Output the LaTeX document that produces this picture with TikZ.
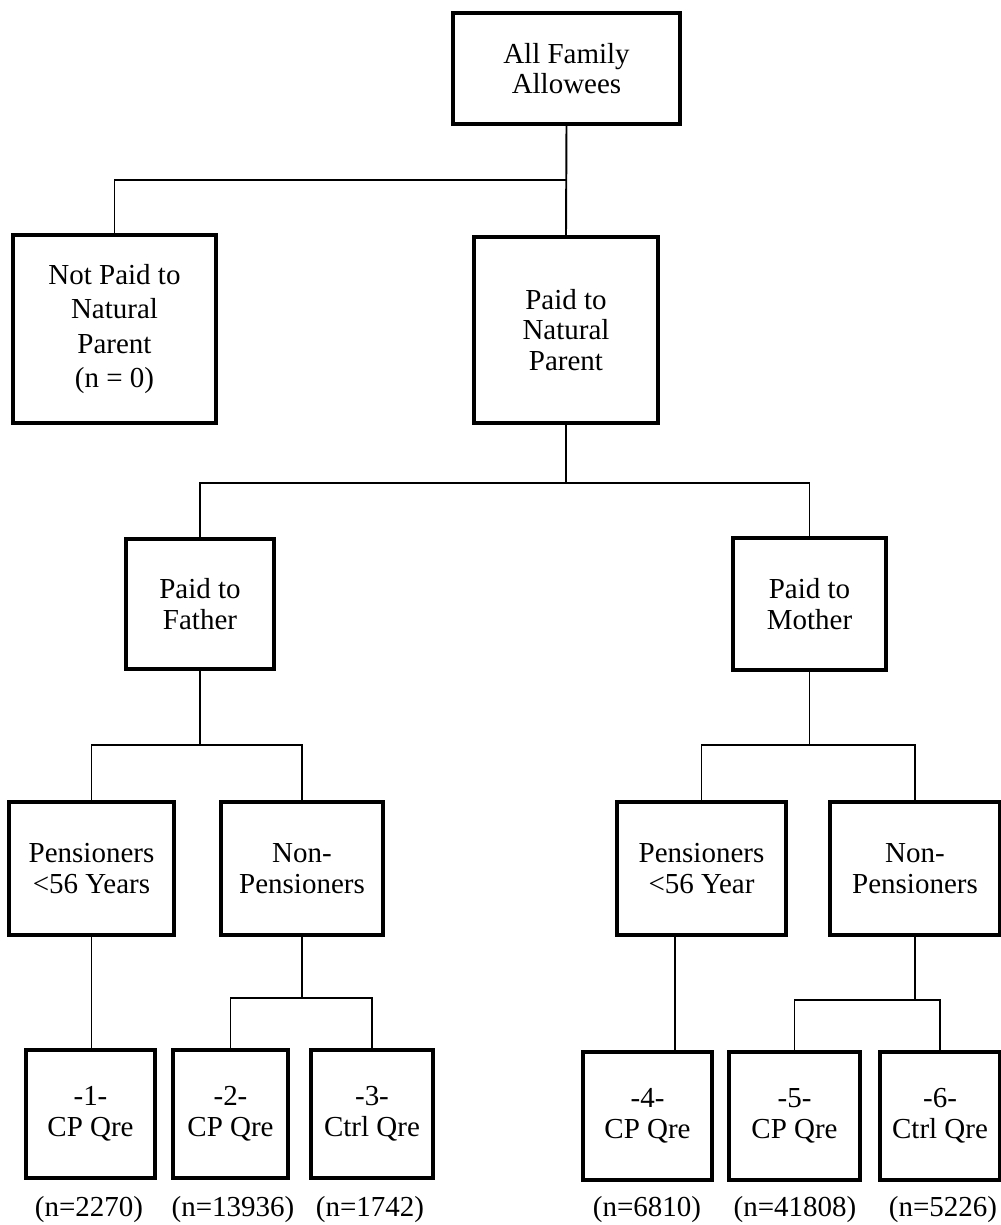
\documentclass[tikz,border=0pt]{standalone}
\usepackage{fontspec}
\setmainfont{Liberation Serif}
\usetikzlibrary{calc}

\begin{document}
\begin{tikzpicture}[x=0.02cm, y=-0.02cm,
  box/.style={draw, line width=1.8pt, align=center, inner sep=0pt,
    font=\fontsize{16.5}{17.5}\selectfont},
  link/.style={line width=1.1pt},
  count/.style={font=\fontsize{16.5}{17.5}\selectfont}]
  \useasboundingbox (0,0) rectangle (1001,1225);

  % Level 0
  \node[box, minimum width=4.54cm, minimum height=2.22cm] (all) at (566.5,68.5) {All Family\\Allowees};

  % Level 1
  \node[box, minimum width=4.06cm, minimum height=3.76cm] (notnat) at (114.5,329) {Not Paid to\\[2pt]Natural\\[2pt]Parent\\[2pt](n = 0)};
  \node[box, minimum width=3.68cm, minimum height=3.72cm] (nat) at (566,330) {Paid to\\Natural\\Parent};

  % Level 2
  \node[box, minimum width=2.96cm, minimum height=2.60cm] (father) at (200,604) {Paid to\\Father};
  \node[box, minimum width=3.06cm, minimum height=2.64cm] (mother) at (809.5,604) {Paid to\\Mother};

  % Level 3
  \node[box, minimum width=3.30cm, minimum height=2.66cm] (fpens) at (91.5,868.5) {Pensioners\\<56 Years};
  \node[box, minimum width=3.24cm, minimum height=2.66cm] (fnon) at (302,868.5) {Non-\\Pensioners};
  \node[box, minimum width=3.38cm, minimum height=2.66cm] (mpens) at (701.5,868.5) {Pensioners\\<56 Year};
  \node[box, minimum width=3.40cm, minimum height=2.66cm] (mnon) at (915,868.5) {Non-\\Pensioners};

  % Level 4 (questionnaires)
  \node[box, minimum width=2.58cm, minimum height=2.56cm] (q1) at (90.5,1114) {-1-\\CP Qre};
  \node[box, minimum width=2.30cm, minimum height=2.56cm] (q2) at (230.5,1114) {-2-\\CP Qre};
  \node[box, minimum width=2.44cm, minimum height=2.56cm] (q3) at (372,1114) {-3-\\Ctrl Qre};
  \node[box, minimum width=2.58cm, minimum height=2.56cm] (q4) at (647.5,1116) {-4-\\CP Qre};
  \node[box, minimum width=2.62cm, minimum height=2.56cm] (q5) at (794.5,1116) {-5-\\CP Qre};
  \node[box, minimum width=2.40cm, minimum height=2.56cm] (q6) at (940,1116) {-6-\\Ctrl Qre};

  % Sample sizes
  \node[count] (n1) at (89,1210) {(n=2270)};
  \node[count] (n2) at (233,1210) {(n=13936)};
  \node[count] (n3) at (370,1210) {(n=1742)};
  \node[count] (n4) at (647,1210) {(n=6810)};
  \node[count] (n5) at (795,1210) {(n=41808)};
  \node[count] (n6) at (943,1210) {(n=5226)};

  % Junctions
  \coordinate (j0) at (566,180);
  \coordinate (j1) at (566,483);
  \coordinate (j2) at (200,745);
  \coordinate (j3) at (809.5,745);
  \coordinate (j4) at (302,998);
  \coordinate (j5) at (915,1000);
  \coordinate (m4) at (675,0);

  % Connectors
  \draw[link] (all.south) -- (nat.north);
  \draw[link] (j0) -| (notnat.north);
  \draw[link] (nat.south) -- (j1);
  \draw[link] (father.north) |- (j1) -| (mother.north);
  \draw[link] (father.south) -- (j2);
  \draw[link] (fpens.north) |- (j2) -| (fnon.north);
  \draw[link] (mother.south) -- (j3);
  \draw[link] (mpens.north) |- (j3) -| (mnon.north);
  \draw[link] (fpens.south) -- (fpens.south |- q1.north);
  \draw[link] (fnon.south) -- (j4);
  \draw[link] (q2.north) |- (j4) -| (q3.north);
  \draw[link] (mpens.south -| m4) -- (q4.north -| m4);
  \draw[link] (mnon.south) -- (j5);
  \draw[link] (q5.north) |- (j5) -| (q6.north);
\end{tikzpicture}
\end{document}
